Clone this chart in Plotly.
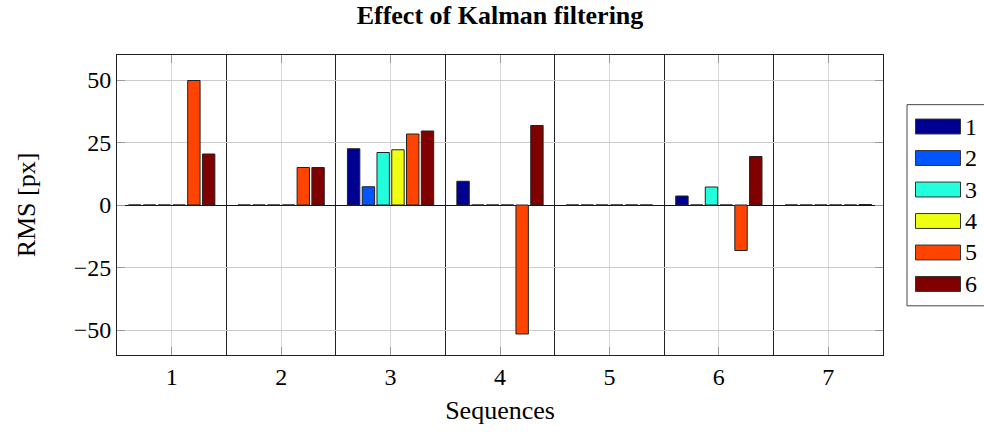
import plotly.graph_objects as go

categories = [1, 2, 3, 4, 5, 6, 7]
series_names = ["1", "2", "3", "4", "5", "6"]
s1 = [0, 0, 22.5, 9.5, 0, 3.6, 0]
s2 = [0, 0, 7.3, 0, 0, 0, 0]
s3 = [0, 0, 21.0, 0, 0, 7.2, 0]
s4 = [0, 0, 22.1, 0, 0, 0, 0]
s5 = [49.8, 15.0, 28.4, -51.6, 0, -18.2, 0]
s6 = [20.4, 15.0, 29.6, 31.8, 0, 19.4, 0.2]
series_values = [s1, s2, s3, s4, s5, s6]
colors = ["#000090", "#0055FF", "#22FFDD", "#EEFF11", "#FF4400", "#800000"]
y_ticks = [-50, -25, 0, 25, 50]

FONT = "Liberation Serif"

# plot area in pixels (for placing the hand-drawn legend)
W, H = 984, 432
L, R, T, B = 117, 101, 55, 75
PW, PH = W - L - R, H - T - B


def px_x(px):
    return (px - L) / PW


def px_y(py):
    return (H - B - py) / PH


fig = go.Figure()
for name, vals, col in zip(series_names, series_values, colors):
    fig.add_trace(go.Bar(
        x=categories, y=vals, name=name, showlegend=False,
        marker=dict(color=col, line=dict(color="#222222", width=1)),
    ))

# legend (pgfplots style: wide swatches)
shapes = [dict(type="rect", xref="paper", yref="paper",
               x0=px_x(907), x1=px_x(995), y0=px_y(307.5), y1=px_y(105),
               line=dict(color="#444444", width=1), fillcolor="white",
               layer="above")]
annotations = []
for i, (name, col) in enumerate(zip(series_names, colors)):
    cy = 127 + i * 31.7
    shapes.append(dict(type="rect", xref="paper", yref="paper",
                       x0=px_x(915.5), x1=px_x(960.5),
                       y0=px_y(cy + 7.5), y1=px_y(cy - 7.5),
                       line=dict(color="#333333", width=1), fillcolor=col,
                       layer="above"))
    annotations.append(dict(text=name, xref="paper", yref="paper",
                            x=px_x(963), y=px_y(cy), xanchor="left",
                            yanchor="middle", showarrow=False,
                            font=dict(family=FONT, size=24, color="black")))

fig.update_layout(
    width=W, height=H,
    margin=dict(l=L, r=R, t=T, b=B),
    paper_bgcolor="white", plot_bgcolor="white",
    barmode="group", bargap=0.19, bargroupgap=0.16,
    font=dict(family=FONT, size=24, color="black"),
    title=dict(text="<b>Effect of Kalman filtering</b>", x=0.5, xref="paper",
               y=0.965, yref="container", yanchor="middle",
               font=dict(family=FONT, size=26, color="black")),
    showlegend=False,
    shapes=shapes,
    annotations=annotations,
)
fig.update_xaxes(
    range=[0.5, 7.5], tickmode="array", tickvals=categories,
    ticktext=[str(c) for c in categories],
    showgrid=True, gridcolor="#d9d9d9", gridwidth=1,
    ticks="inside", ticklen=8, tickcolor="#999999", mirror="allticks",
    showline=True, linecolor="#222222", linewidth=1,
    minor=dict(tickmode="linear", tick0=0.5, dtick=1, showgrid=True,
               gridcolor="#222222", gridwidth=1, ticks=""),
    title=dict(text="Sequences", standoff=12, font=dict(family=FONT, size=26)),
    zeroline=False, tickfont=dict(size=24),
)
fig.update_yaxes(
    range=[-60, 60], tickmode="array", tickvals=y_ticks,
    showgrid=True, gridcolor="#cccccc", gridwidth=1,
    ticks="inside", ticklen=8, tickcolor="#999999", mirror="allticks",
    showline=True, linecolor="#222222", linewidth=1,
    zeroline=True, zerolinecolor="#111111", zerolinewidth=1,
    title=dict(text="RMS [px]", standoff=30, font=dict(family=FONT, size=26)),
    tickfont=dict(size=24),
)

fig.write_html("out.html")
